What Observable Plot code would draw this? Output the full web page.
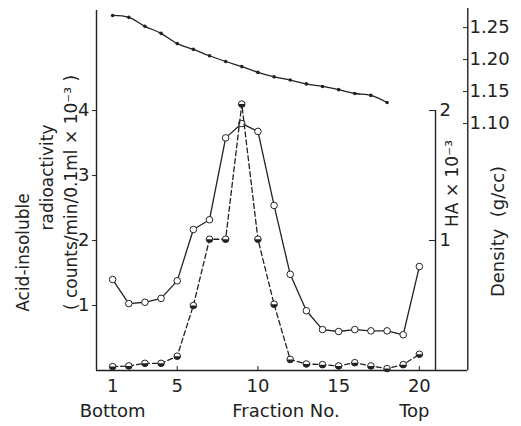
<!DOCTYPE html>
<html><head><meta charset="utf-8">
<script src="https://cdn.jsdelivr.net/npm/d3@7"></script>
<script src="https://cdn.jsdelivr.net/npm/@observablehq/plot@0.6"></script>
<style>body{margin:0;background:#fff} svg{display:block}</style>
</head><body><div id="chart"></div>
<script>
const fractions = [1,2,3,4,5,6,7,8,9,10,11,12,13,14,15,16,17,18,19,20];
const radioactivity = [1.40,1.03,1.05,1.11,1.38,2.17,2.32,3.58,3.80,3.68,2.54,1.48,0.92,0.63,0.60,0.63,0.61,0.61,0.55,1.60];
const haValues = [0.03,0.035,0.055,0.055,0.11,0.50,1.01,1.01,2.05,1.01,0.51,0.085,0.05,0.045,0.035,0.06,0.035,0.015,0.045,0.125];
const densityFractions = [1,2,3,4,5,6,7,8,9,10,11,12,13,14,15,16,17,18];
const densityValues = [1.269,1.266,1.252,1.241,1.225,1.216,1.206,1.197,1.189,1.180,1.173,1.168,1.162,1.158,1.153,1.147,1.144,1.133];
const xTicks = [1,5,10,15,20];
const leftTicks = [1,2,3,4];
const haTicks = [1,2];
const densityTicks = [1.10,1.15,1.20,1.25];

// secondary scales mapped onto the shared y scale (radioactivity units)
const haToY = h => h * 2;
const densToY = d => 3.80 + (d - 1.10) / 0.05 * (32 / 65);
const yToDens = y => (y - 3.80) * (65 / 32) * 0.05 + 1.10;

const rad = fractions.map((f, i) => ({f, v: radioactivity[i]}));
const ha = fractions.map((f, i) => ({f, v: haToY(haValues[i])}));
const dens = densityFractions.map((f, i) => ({f, v: densToY(densityValues[i])}));

const halfDisk = {draw(ctx, size) { const r = Math.sqrt(size / Math.PI); ctx.moveTo(r, 0); ctx.arc(0, 0, r, 0, Math.PI); ctx.closePath(); }};
const ink = "#222";
const num = {fontSize: 18, fill: ink, stroke: ink, label: null};
const word = {fontSize: 18, fill: ink};

const chart = Plot.plot({
  width: 521, height: 426,
  marginLeft: 96, marginRight: 86, marginTop: 10, marginBottom: 56,
  x: {domain: [0, 21], axis: null},
  y: {domain: [0, 5.54], axis: null},
  style: {fontFamily: "DejaVu Sans", color: ink, background: "#fff"},
  marks: [
    Plot.ruleX([0], {y1: 0, y2: 5.54, stroke: ink, strokeWidth: 1.4}),
    Plot.ruleY([0], {x1: 0, x2: 23, stroke: ink, strokeWidth: 1.4}),
    Plot.ruleX([21], {y1: 0, y2: haToY(2), stroke: ink, strokeWidth: 1.4}),
    Plot.ruleX([23], {y1: 0, y2: 5.57, stroke: ink, strokeWidth: 1.4}),
    Plot.axisX(xTicks, {tickSize: -4, tickPadding: 13, ...num}),
    Plot.axisY(leftTicks, {anchor: "left", tickSize: 4, tickPadding: 3, tickFormat: d => String(d), ...num}),
    Plot.axisY(haTicks.map(haToY), {anchor: "right", tickSize: -7, tickPadding: 11, tickFormat: y => String(y / 2), ...num}),
    Plot.axisY(densityTicks.map(densToY), {anchor: "right", dx: 32, tickSize: -5, tickPadding: 7, tickFormat: y => yToDens(y).toFixed(2), ...num}),
    Plot.line(dens, {x: "f", y: "v", stroke: ink, strokeWidth: 1.3, curve: "catmull-rom"}),
    Plot.dot(dens, {x: "f", y: "v", r: 1.8, fill: ink}),
    Plot.line(rad, {x: "f", y: "v", stroke: ink, strokeWidth: 1.3}),
    Plot.dot(rad, {x: "f", y: "v", r: 3.3, fill: "#fff", stroke: ink, strokeWidth: 1}),
    Plot.line(ha, {x: "f", y: "v", stroke: ink, strokeWidth: 1.3, strokeDasharray: "5,3"}),
    Plot.dot(ha, {x: "f", y: "v", r: 3.3, fill: "#fff", stroke: ink, strokeWidth: 1}),
    Plot.dot(ha, {x: "f", y: "v", r: 3.3, symbol: halfDisk, fill: ink, stroke: "none"}),
    Plot.text(["Bottom"], {x: [1], frameAnchor: "bottom", lineAnchor: "middle", dy: 41, ...word}),
    Plot.text(["Top"], {x: [20], frameAnchor: "bottom", lineAnchor: "middle", dy: 41, dx: -5, ...word}),
    Plot.text(["Fraction No."], {frameAnchor: "bottom", lineAnchor: "middle", textAnchor: "middle", dx: 20, dy: 41, letterSpacing: 1, ...word}),
    Plot.text(["Acid-insoluble"], {frameAnchor: "left", textAnchor: "middle", lineAnchor: "middle", rotate: -90, dx: -73, dy: 62, ...word, fontSize: 17}),
    Plot.text(["radioactivity"], {frameAnchor: "left", textAnchor: "middle", lineAnchor: "middle", rotate: -90, dx: -49, dy: -13, letterSpacing: 1, ...word, fontSize: 17}),
    Plot.text(["( counts/min/0.1ml × 10⁻³ )"], {frameAnchor: "left", textAnchor: "middle", lineAnchor: "middle", rotate: -90, dx: -25, dy: 2, ...word, fontSize: 17}),
    Plot.text(["HA × 10⁻³"], {frameAnchor: "right", textAnchor: "middle", lineAnchor: "middle", rotate: -90, dx: 17, dy: -7, ...word, fontSize: 17}),
    Plot.text(["Density  (g/cc)"], {frameAnchor: "right", textAnchor: "middle", lineAnchor: "middle", rotate: -90, dx: 63, dy: 41, ...word})
  ]
});
document.getElementById("chart").appendChild(chart);
</script>
</body></html>
